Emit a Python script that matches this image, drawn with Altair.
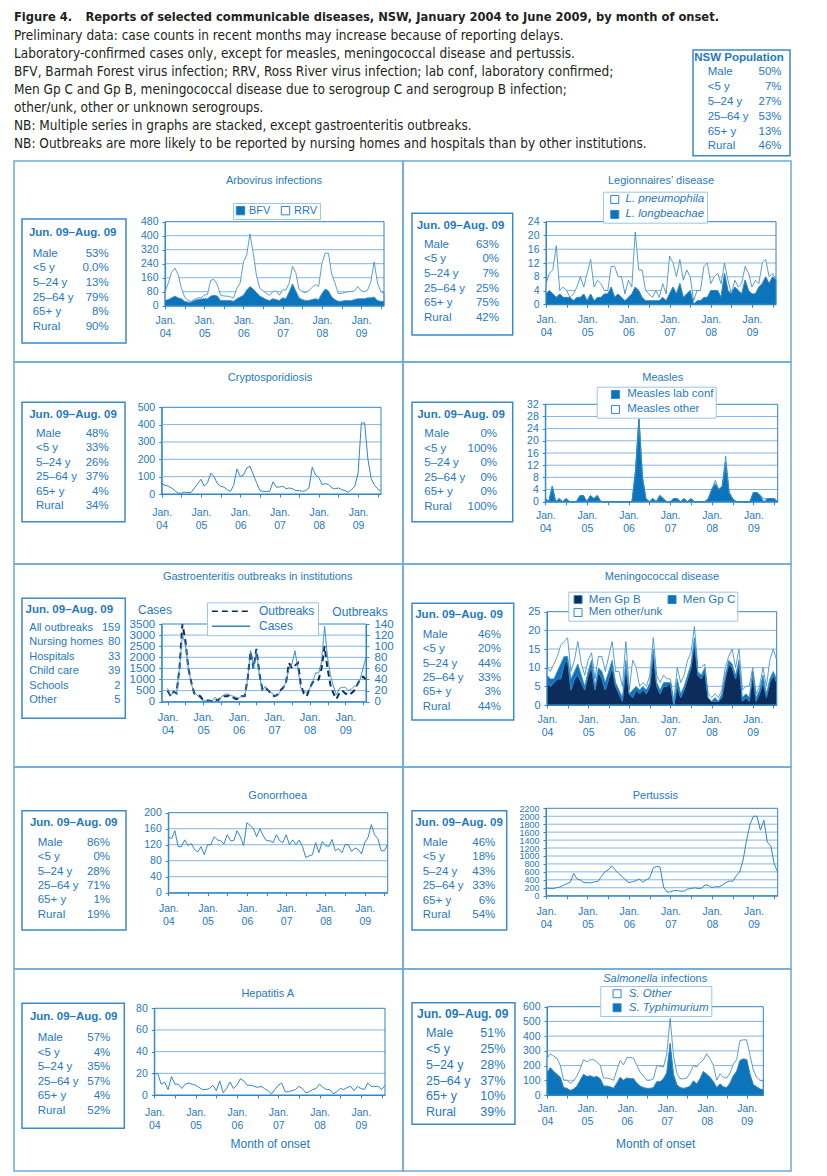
import altair as alt
import pandas as pd

# ---------------- colours / fonts ----------------
TXT = "#1f79be"
FRAME = "#2f86c6"
GRIDC = "#84b5df"
CELLB = "#6ea9da"
BOXB = "#3a8bcb"
LEGB = "#9cc6e6"
AREA = "#0b74ba"
NAVY = "#0c2c5c"
BLACK = "#231f20"
FONT = "Liberation Sans"
NARROW = "'Liberation Sans Narrow', 'Arial Narrow', 'DejaVu Sans Condensed', sans-serif"

# ---------------- text ----------------
FIG_LABEL = "Figure 4."
FIG_TITLE = "Reports of selected communicable diseases, NSW, January 2004 to June 2009, by month of onset."
NOTES = [
    "Preliminary data: case counts in recent months may increase because of reporting delays.",
    "Laboratory-confirmed cases only, except for measles, meningococcal disease and pertussis.",
    "BFV, Barmah Forest virus infection; RRV, Ross River virus infection; lab conf, laboratory confirmed;",
    "Men Gp C and Gp B, meningococcal disease due to serogroup C and serogroup B infection;",
    "other/unk, other or unknown serogroups.",
    "NB: Multiple series in graphs are stacked, except gastroenteritis outbreaks.",
    "NB: Outbreaks are more likely to be reported by nursing homes and hospitals than by other institutions.",
]
YEAR_LABELS = ["04", "05", "06", "07", "08", "09"]
STATS_TITLE = "Jun. 09\u2013Aug. 09"
AGE_LABELS = ["Male", "<5 y", "5\u201324 y", "25\u201364 y", "65+ y", "Rural"]
NSW_VALUES = ["50%", "7%", "27%", "53%", "13%", "46%"]
GASTRO_LABELS = ["All outbreaks", "Nursing homes", "Hospitals", "Child care", "Schools", "Other"]

ARBO_STATS = ["53%", "0.0%", "13%", "79%", "8%", "90%"]
LEGION_STATS = ["63%", "0%", "7%", "25%", "75%", "42%"]
CRYPTO_STATS = ["48%", "33%", "26%", "37%", "4%", "34%"]
MEASLES_STATS = ["0%", "100%", "0%", "0%", "0%", "100%"]
GASTRO_STATS = ["159", "80", "33", "39", "2", "5"]
MENINGO_STATS = ["46%", "20%", "44%", "33%", "3%", "44%"]
GONO_STATS = ["86%", "0%", "28%", "71%", "1%", "19%"]
PERT_STATS = ["46%", "18%", "43%", "33%", "6%", "54%"]
HEPA_STATS = ["57%", "4%", "35%", "57%", "4%", "52%"]
SALM_STATS = ["51%", "25%", "28%", "37%", "10%", "39%"]

# ---------------- monthly series (Jan 2004 onward) ----------------
ARBO_BFV = [30, 35, 45, 55, 45, 40, 25, 20, 20, 30, 35, 38, 40, 40, 55, 60, 55, 30, 30, 30,
            30, 25, 40, 50, 60, 90, 110, 95, 75, 55, 45, 35, 30, 40, 35, 30, 45, 40, 80, 125,
            85, 45, 35, 30, 30, 35, 40, 35, 70, 95, 85, 50, 35, 25, 25, 30, 30, 30, 35, 40,
            40, 40, 45, 45, 50, 30, 25, 25]
ARBO_RRV = [50, 95, 145, 160, 135, 60, 25, 10, 5, 5, 10, 7, 20, 25, 90, 90, 65, 30, 25, 25,
            20, 20, 60, 80, 190, 200, 300, 205, 95, 45, 40, 35, 30, 40, 50, 30, 45, 50, 50, 100,
            105, 50, 45, 45, 55, 70, 80, 75, 170, 205, 215, 130, 95, 45, 45, 45, 50, 50, 50, 70,
            45, 40, 45, 95, 200, 100, 55, 50]

LEG_LONGB = [3, 4, 3, 2, 3, 2, 2, 2, 1, 2, 2, 3, 1, 3, 1, 2, 2, 3, 3, 5,
             2, 3, 2, 1, 2, 3, 5, 4, 2, 1, 1, 1, 1, 1, 2, 1, 3, 5, 3, 6,
             2, 3, 4, 0, 1, 1, 2, 2, 4, 4, 4, 2, 9, 4, 3, 5, 4, 3, 7, 4,
             3, 3, 5, 6, 8, 6, 8, 7]
LEG_PNEUMO = [3, 5, 7, 15, 1, 3, 2, 0, 2, 3, 6, 2, 8, 10, 4, 5, 4, 1, 1, 6,
              9, 5, 6, 2, 5, 2, 16, 6, 8, 3, 2, 1, 3, 1, 4, 2, 11, 7, 5, 7,
              5, 7, 4, 1, 3, 3, 9, 10, 2, 4, 5, 4, 3, 3, 0, 2, 1, 3, 4, 5,
              2, 4, 1, 6, 5, 2, 1, 0]

CRYPTO = [60, 50, 45, 35, 20, 5, 5, 10, 8, 10, 35, 60, 85, 45, 65, 120, 100, 60, 45, 40,
          25, 15, 50, 145, 100, 110, 150, 160, 110, 65, 20, 15, 15, 15, 70, 40, 40, 45, 30, 35,
          30, 20, 20, 15, 20, 35, 155, 110, 95, 55, 60, 55, 35, 30, 35, 25, 20, 10, 25, 45,
          120, 410, 410, 200, 90, 50, 30, 15]

MEASLES_LAB = [1, 0, 5, 0, 1, 0, 1, 0, 0, 0, 2, 2, 0, 2, 1, 2, 0, 0, 0, 0,
               0, 0, 0, 0, 0, 0, 10, 27, 8, 1, 0, 1, 0, 2, 1, 0, 0, 1, 1, 0,
               1, 0, 1, 0, 0, 0, 0, 1, 4, 6, 4, 5, 13, 3, 1, 0, 0, 0, 0, 0,
               3, 3, 2, 0, 1, 1, 1, 0]
MEASLES_OTHER = [0, 0, 0, 0, 0, 0, 0, 0, 0, 0, 0, 0, 0, 0, 0, 0, 0, 0, 0, 0,
                 0, 0, 0, 0, 0, 0, 0, 1, 0, 0, 0, 0, 0, 0, 0, 0, 0, 0, 0, 0,
                 0, 0, 0, 0, 0, 0, 0, 0, 0, 1, 0, 0, 2, 0, 0, 0, 0, 0, 0, 0,
                 0, 0, 0, 1, 0, 0, 0, 0]

GASTRO_CASES = [600, 250, 450, 350, 1500, 3000, 2600, 1500, 800, 400, 300, 150, 50, 30, 50, 30, 200, 50, 200, 300,
                350, 300, 250, 200, 150, 250, 250, 1000, 2300, 1500, 2300, 1200, 500, 700, 500, 400, 300, 250, 450, 600,
                900, 1500, 1700, 2300, 1500, 600, 500, 400, 600, 900, 1300, 1300, 1800, 3400, 2000, 1200, 700, 300, 600, 650,
                650, 500, 550, 700, 700, 1000, 1500, 2000]
GASTRO_OUTBREAKS = [20, 10, 18, 15, 60, 140, 110, 60, 35, 15, 12, 10, 3, 2, 2, 1, 5, 2, 8, 10,
                    10, 12, 8, 5, 5, 10, 10, 40, 90, 60, 95, 50, 22, 25, 20, 15, 10, 12, 20, 25,
                    35, 70, 60, 65, 70, 30, 15, 10, 25, 35, 38, 40, 60, 100, 60, 30, 15, 5, 15, 20,
                    15, 12, 15, 20, 30, 40, 45, 40]

MEN_B = [6, 5, 6, 7, 7, 11, 12, 4, 7, 8, 6, 4, 8, 10, 4, 9, 7, 4, 7, 10,
         5, 3, 1, 10, 3, 2, 4, 3, 4, 3, 5, 14, 5, 3, 5, 5, 6, 0, 5, 2,
         4, 7, 10, 17, 8, 7, 9, 2, 1, 1, 1, 2, 7, 11, 10, 7, 11, 1, 2, 1,
         8, 1, 3, 6, 2, 6, 8, 6]
MEN_C = [2, 2, 1, 2, 4, 2, 1, 3, 2, 3, 2, 1, 1, 2, 1, 1, 2, 2, 2, 2,
         1, 1, 1, 2, 0, 2, 1, 1, 1, 1, 1, 1, 1, 1, 1, 1, 0, 0, 2, 1,
         1, 1, 1, 1, 1, 1, 1, 0, 0, 1, 0, 1, 1, 1, 1, 1, 1, 1, 1, 1,
         1, 1, 1, 2, 1, 1, 1, 1]
MEN_OTHER = [2, 2, 4, 4, 5, 4, 5, 2, 3, 6, 3, 3, 3, 2, 2, 3, 4, 3, 4, 5,
             3, 5, 3, 5, 1, 8, 5, 1, 1, 1, 2, 3, 2, 2, 2, 1, 1, 1, 3, 3,
             3, 4, 3, 3, 1, 2, 1, 1, 1, 1, 1, 1, 2, 1, 4, 2, 3, 2, 2, 3,
             1, 1, 1, 2, 2, 5, 6, 5]

GONO = [140, 135, 155, 115, 115, 132, 118, 123, 108, 102, 115, 95, 120, 120, 140, 132, 130, 122, 145, 130,
        130, 155, 140, 118, 175, 168, 160, 140, 160, 142, 130, 130, 125, 145, 130, 125, 145, 120, 132, 120,
        132, 115, 88, 92, 95, 125, 100, 128, 118, 115, 133, 105, 110, 100, 120, 120, 103, 112, 108, 97,
        125, 138, 170, 145, 135, 105, 105, 122]

PERTUSSIS = [200, 180, 175, 200, 220, 260, 300, 340, 560, 420, 390, 330, 330, 320, 350, 360, 480, 600, 650, 750,
             650, 560, 480, 400, 330, 350, 380, 420, 340, 400, 450, 700, 740, 720, 220, 90, 100, 130, 130, 110,
             120, 170, 180, 200, 180, 190, 270, 260, 200, 230, 220, 270, 330, 370, 360, 500, 600, 900, 1400, 1800,
             2000, 2000, 1650, 1900, 1350, 1250, 800, 600]

HEPA = [19, 20, 10, 12, 5, 17, 10, 10, 6, 10, 11, 10, 9, 7, 5, 5, 6, 9, 4, 13,
        2, 6, 12, 6, 9, 15, 13, 9, 9, 8, 7, 8, 6, 4, 1, 5, 9, 11, 3, 3,
        4, 5, 8, 6, 2, 3, 5, 6, 10, 7, 5, 5, 1, 3, 6, 5, 7, 8, 4, 8,
        6, 5, 11, 8, 8, 8, 5, 9]

SALM_TYPH = [150, 185, 160, 140, 120, 50, 45, 30, 40, 60, 100, 140, 125, 130, 120, 125, 110, 60, 60, 55,
             45, 80, 120, 100, 115, 110, 110, 80, 60, 50, 45, 45, 50, 90, 90, 110, 150, 350, 140, 70,
             50, 45, 50, 60, 95, 75, 110, 160, 140, 120, 90, 50, 75, 55, 50, 80, 130, 160, 235, 245,
             240, 140, 70, 55, 40, 35]
SALM_OTHER = [100, 95, 105, 110, 80, 50, 55, 50, 55, 70, 80, 100, 100, 110, 120, 100, 90, 55, 55, 55,
              55, 90, 115, 105, 140, 145, 140, 120, 95, 80, 55, 55, 60, 110, 105, 80, 130, 170, 130, 80,
              60, 65, 65, 90, 105, 115, 110, 80, 140, 125, 110, 50, 70, 65, 65, 70, 80, 80, 135, 130,
              135, 130, 100, 65, 60, 60]

# ---------------- helpers ----------------
ONE = alt.Data(values=[{"k": 0}])
LABEL_EXPR = ("datum.value % 12 == 0 ? ['Jan.', " + str(YEAR_LABELS) +
              "[datum.value / 12]] : ''")
INDEP = dict(x="independent", y="independent", fill="independent",
             stroke="independent", strokeDash="independent")


def txt(x, y, text, size=11.0, color=TXT, align="center", baseline="middle",
        weight="normal", style="normal", font=None, lh=None):
    kw = dict(fontSize=size, color=color, align=align, baseline=baseline,
              fontWeight=weight, fontStyle=style)
    if font:
        kw["font"] = font
    if lh:
        kw["lineHeight"] = lh
    return alt.Chart(ONE).mark_text(**kw).encode(
        x=alt.value(x), y=alt.value(y), text=alt.value(text))


def box(x0, y0, x1, y1, stroke=BOXB, sw=1.5):
    return alt.Chart(ONE).mark_rect(fill="white", stroke=stroke, strokeWidth=sw).encode(
        x=alt.value(x0), x2=alt.value(x1), y=alt.value(y0), y2=alt.value(y1))


def stats_layers(c):
    fs = c.get("sfs", 11.5)
    lfs = c.get("lfs", fs)
    bx = c["box"]
    base = c["r0"] + 0.33 * lfs
    return [
        box(*bx),
        txt(c["st"][0], c["st"][1], STATS_TITLE, size=fs, weight="bold"),
        txt(c["lx"], base, c["slabels"], size=lfs, align="left", baseline="alphabetic", lh=c["step"]),
        txt(c["vx"], base, c["svalues"], size=lfs, align="right", baseline="alphabetic", lh=c["step"]),
    ]


def scales(c, ymax):
    xs = alt.Scale(domain=c["xdom"], range=[c["px"][0], c["px"][1]], nice=False, zero=False)
    ys = alt.Scale(domain=[0, ymax], range=[c["py"][1], c["py"][0]], nice=False, zero=False)
    return xs, ys


def x_axis(c):
    ticks = [t for t in range(0, 68, 6) if t <= c["xdom"][1]]
    kw = dict(values=ticks, labelExpr=LABEL_EXPR, offset=c["py"][1] - c["h"], tickSize=3,
              tickColor=FRAME, domainColor=FRAME, labelColor=TXT, labelFontSize=c.get("xfs", 10.5),
              labelPadding=c["xlp"], labelLineHeight=13, labelFlush=False, labelOverlap=False,
              labelBound=False, grid=False, labelAlign="center", labelBaseline="top")
    if c.get("xtitle"):
        kw.update(title=c["xtitle"], titleY=c["xty"], titleBaseline="middle", titleFontSize=12,
                  titleFontWeight="normal", titleColor=TXT)
    else:
        kw.update(title=None)
    return alt.Axis(**kw)


def y_axis(c, ticks, orient="left", size=10.5, pad=4):
    off = -c["px"][0] if orient == "left" else c["px"][1] - c["w"]
    return alt.Axis(orient=orient, values=ticks, offset=off, format="d", tickSize=3,
                    tickColor=FRAME, domainColor=FRAME, labelColor=TXT, labelFontSize=size,
                    labelPadding=pad, labelOverlap=False, grid=False, title=None)


def grid_frame(c, xs, ys, ticks, ymax):
    g = alt.Chart(pd.DataFrame({"v": ticks[1:-1]})).mark_rule(color=GRIDC, strokeWidth=1).encode(
        y=alt.Y("v:Q", scale=ys, axis=None),
        x=alt.XDatum(c["xdom"][0], scale=xs, axis=None),
        x2=alt.X2Datum(c["xdom"][1]))
    f = alt.Chart(ONE).mark_rect(filled=False, stroke=FRAME, strokeWidth=1).encode(
        x=alt.XDatum(c["xdom"][0], scale=xs, axis=None), x2=alt.X2Datum(c["xdom"][1]),
        y=alt.YDatum(0, scale=ys, axis=None), y2=alt.Y2Datum(ymax))
    return g, f


def legend(x, y, **kw):
    base = dict(orient="none", legendX=x, legendY=y, title=None, symbolType="square",
                symbolSize=64, symbolStrokeColor=FRAME, symbolStrokeWidth=1, labelColor=TXT,
                labelFontSize=11, labelOffset=4, padding=2, rowPadding=2, strokeColor=LEGB,
                fillColor="white", direction="vertical")
    base.update(kw)
    return alt.Legend(**base)


def title_layers(c):
    if c.get("italic_title"):
        a, b = c["italic_title"]
        x, y = c["tpos"]
        return [txt(x, y, a, size=11, align="right", style="italic"),
                txt(x + 3, y, b, size=11, align="left")]
    return [txt(c["tpos"][0], c["tpos"][1], c["title"], size=11)]


def finish(c, layers):
    return alt.layer(*layers).resolve_scale(**INDEP).properties(
        width=c["w"], height=c["h"],
        view=alt.ViewBackground(stroke=CELLB, strokeWidth=1.5))


def stacked_cell(c):
    xs, ys = scales(c, c["ymax"])
    g, f = grid_frame(c, xs, ys, c["yticks"], c["ymax"])
    rows = []
    for name, vals, k in zip(c["names"], c["series"], c["ks"]):
        for i, v in enumerate(vals):
            rows.append({"m": i, "series": name, "value": v, "k": k})
    df = pd.DataFrame(rows)
    area = alt.Chart(df).mark_area(stroke=FRAME, strokeWidth=0.8, interpolate="linear").encode(
        x=alt.X("m:Q", scale=xs, axis=x_axis(c)),
        y=alt.Y("value:Q", scale=ys, axis=y_axis(c, c["yticks"], size=c.get("yfs", 10.5)), stack="zero"),
        fill=alt.Fill("series:N", scale=alt.Scale(domain=c["names"], range=c["fills"]),
                      legend=c["legend"]),
        order=alt.Order("k:Q"))
    return finish(c, [g, area, f] + title_layers(c) + stats_layers(c))


def line_cell(c):
    xs, ys = scales(c, c["ymax"])
    g, f = grid_frame(c, xs, ys, c["yticks"], c["ymax"])
    df = pd.DataFrame({"m": list(range(len(c["values"]))), "value": c["values"]})
    line = alt.Chart(df).mark_line(color=FRAME, strokeWidth=1).encode(
        x=alt.X("m:Q", scale=xs, axis=x_axis(c)),
        y=alt.Y("value:Q", scale=ys, axis=y_axis(c, c["yticks"], size=c.get("yfs", 10.5))))
    return finish(c, [g, line, f] + title_layers(c) + stats_layers(c))


def gastro_cell(c):
    xs, ys = scales(c, 3500)
    _, ys2 = scales(c, 140)
    cticks = list(range(0, 3501, 500))
    oticks = list(range(0, 141, 20))
    g, f = grid_frame(c, xs, ys, cticks, 3500)
    dom = ["Outbreaks", "Cases"]
    leg = legend(193, 38.3, symbolType="M-4,0L4,0", symbolSize=92, labelFontSize=12,
                 rowPadding=3, labelOffset=22, symbolStrokeWidth=1.5, symbolOffset=15, padding=3)
    sscale = alt.Scale(domain=dom, range=[NAVY, FRAME])
    dscale = alt.Scale(domain=dom, range=[[6, 4], [1, 0]])
    dc = pd.DataFrame({"m": list(range(len(GASTRO_CASES))), "value": GASTRO_CASES, "series": "Cases"})
    do = pd.DataFrame({"m": list(range(len(GASTRO_OUTBREAKS))), "value": GASTRO_OUTBREAKS,
                       "series": "Outbreaks"})
    cases = alt.Chart(dc).mark_line(strokeWidth=1).encode(
        x=alt.X("m:Q", scale=xs, axis=x_axis(c)),
        y=alt.Y("value:Q", scale=ys, axis=y_axis(c, cticks, size=11.5)),
        stroke=alt.Stroke("series:N", scale=sscale, legend=leg),
        strokeDash=alt.StrokeDash("series:N", scale=dscale, legend=leg))
    outb = alt.Chart(do).mark_line(strokeWidth=2).encode(
        x=alt.X("m:Q", scale=xs, axis=None),
        y=alt.Y("value:Q", scale=ys2, axis=y_axis(c, oticks, orient="right", size=11.5, pad=5)),
        stroke=alt.Stroke("series:N", scale=sscale, legend=None),
        strokeDash=alt.StrokeDash("series:N", scale=dscale, legend=None))
    extra = [txt(141, 46, "Cases", size=12), txt(346, 48.3, "Outbreaks", size=12)]
    return finish(c, [g, outb, cases, f] + title_layers(c) + extra + stats_layers(c))


LW, RW = 389, 388

arbo = stacked_cell(dict(
    w=LW, h=201, title="Arbovirus infections", tpos=(260, 19.7), px=(151, 370), py=(60.7, 144.7),
    xdom=[0, 67], ymax=480, yticks=list(range(0, 481, 80)), xlp=6.8,
    names=["BFV", "RRV"], series=[ARBO_BFV, ARBO_RRV], ks=[0, 1], fills=[AREA, "white"],
    legend=legend(219, 42, direction="horizontal", symbolSize=70, columnPadding=8, labelOffset=3),
    box=(8, 58, 112, 182), st=(58.7, 71.7), lx=18.7, vx=94.7, r0=92, step=14.6,
    slabels=AGE_LABELS, svalues=ARBO_STATS))

legion = stacked_cell(dict(
    w=RW, h=201, title="Legionnaires\u2019 disease", tpos=(258, 19.7), px=(143, 373), py=(60.7, 143.3),
    xdom=[0, 67], ymax=24, yticks=list(range(0, 25, 4)), xlp=7.5,
    names=["L. pneumophila", "L. longbeachae"], series=[LEG_PNEUMO, LEG_LONGB], ks=[1, 0],
    fills=["white", AREA],
    legend=legend(200, 30.7, labelFontStyle="italic", labelFontSize=11.5, symbolOffset=4, labelOffset=5),
    box=(9, 52.3, 109.7, 174), st=(57.5, 64.7), lx=21, vx=96, r0=83, step=14.6,
    slabels=AGE_LABELS, svalues=LEGION_STATS))

crypto = line_cell(dict(
    w=LW, h=202, title="Cryptosporidiosis", tpos=(256, 15.7), px=(147.7, 367), py=(45.3, 132),
    xdom=[0, 67], ymax=500, yticks=list(range(0, 501, 100)), xlp=10.2, values=CRYPTO,
    box=(8, 40.3, 111, 159.7), st=(59, 53), lx=22, vx=94.7, r0=71, step=14.5,
    slabels=AGE_LABELS, svalues=CRYPTO_STATS))

measles = stacked_cell(dict(
    w=RW, h=202, title="Measles", tpos=(259.7, 15.7), px=(142.3, 374.7), py=(42.3, 139.7),
    xdom=[0, 67], ymax=32, yticks=list(range(0, 33, 4)), xlp=5.8,
    names=["Measles lab conf", "Measles other"], series=[MEASLES_LAB, MEASLES_OTHER], ks=[0, 1],
    fills=[AREA, "white"],
    legend=legend(193.7, 24.7, labelFontSize=11.5, symbolOffset=11, labelOffset=6),
    box=(9, 40.3, 109.7, 159.7), st=(58, 53), lx=21.3, vx=94, r0=71.3, step=14.5,
    slabels=AGE_LABELS, svalues=MEASLES_STATS))

gastro = gastro_cell(dict(
    w=LW, h=203, title="Gastroenteritis outbreaks in institutions", tpos=(243.7, 13.3),
    px=(147.7, 352), py=(60, 137.7), xdom=[-2, 67], xlp=6.5, xfs=11,
    box=(8, 34.3, 111.3, 154.3), st=(55.3, 46), lx=15.3, vx=106.3, r0=63.3, step=14.5, lfs=11,
    slabels=GASTRO_LABELS, svalues=GASTRO_STATS))

meningo = stacked_cell(dict(
    w=RW, h=203, title="Meningococcal disease", tpos=(259, 13.3), px=(144, 373.7), py=(47.7, 141),
    xdom=[0, 67], ymax=25, yticks=list(range(0, 26, 5)), xlp=6.5, yfs=11,
    names=["Men Gp B", "Men Gp C", "Men other/unk"], series=[MEN_B, MEN_C, MEN_OTHER], ks=[0, 1, 2],
    fills=[NAVY, AREA, "white"],
    legend=legend(165.3, 27.7, columns=2, direction="horizontal", labelFontSize=11.5, rowPadding=0,
                  columnPadding=1, symbolOffset=2, labelOffset=5),
    box=(9, 39.3, 110.7, 156), st=(56, 51), lx=19.7, vx=98, r0=70, step=14.4,
    slabels=AGE_LABELS, svalues=MENINGO_STATS))

gono = line_cell(dict(
    w=LW, h=202, title="Gonorrhoea", tpos=(263.7, 28.7), px=(154.3, 373.7), py=(45.7, 125.7),
    xdom=[0, 67], ymax=200, yticks=list(range(0, 201, 40)), xlp=8.1, values=GONO,
    box=(8, 43.7, 112, 163), st=(59.7, 55.7), lx=23.7, vx=96, r0=75, step=14.4,
    slabels=AGE_LABELS, svalues=GONO_STATS))

pert = line_cell(dict(
    w=RW, h=202, title="Pertussis", tpos=(252.3, 28.7), px=(143, 374.7), py=(41.3, 128.7),
    xdom=[0, 67], ymax=2200, yticks=list(range(0, 2201, 200)), xlp=7.5, yfs=9, values=PERTUSSIS,
    box=(9, 43.7, 103.7, 163), st=(56, 55.7), lx=19.7, vx=92.3, r0=75.3, step=14.4,
    slabels=AGE_LABELS, svalues=PERT_STATS))

hepa = line_cell(dict(
    w=LW, h=202, title="Hepatitis A", tpos=(253.7, 25.3), px=(140.3, 371), py=(39.3, 126),
    xdom=[0, 67], ymax=80, yticks=list(range(0, 81, 20)), xlp=9.8, values=HEPA,
    xtitle="Month of onset", xty=48.3,
    box=(8, 34.3, 110.3, 159.3), st=(59.7, 48.3), lx=23.7, vx=96.3, r0=68.7, step=14.5,
    slabels=AGE_LABELS, svalues=HEPA_STATS))

salm = stacked_cell(dict(
    w=RW, h=202, italic_title=("Salmonella", "infections"), tpos=(254.7, 10),
    px=(144, 360.3), py=(37.7, 126), xdom=[0, 65], ymax=600, yticks=list(range(0, 601, 100)), xlp=5.8,
    xtitle="Month of onset", xty=48.3,
    names=["S. Other", "S. Typhimurium"], series=[SALM_OTHER, SALM_TYPH], ks=[1, 0],
    fills=["white", AREA],
    legend=legend(197.3, 17, labelFontStyle="italic", labelFontSize=11.5, rowPadding=1,
                  symbolOffset=9, labelOffset=6),
    box=(9, 33.7, 112, 155.3), st=(59.7, 45.3), lx=23, vx=102.3, r0=63.7, step=15.9, sfs=12,
    lfs=12.5, slabels=AGE_LABELS, svalues=SALM_STATS))

# ---------------- header ----------------
header_l = alt.layer(
    txt(0, 9.3, FIG_LABEL, size=12.8, weight="bold", color=BLACK, align="left", font=NARROW),
    txt(71.4, 9.3, FIG_TITLE, size=12.8, weight="bold", color=BLACK, align="left", font=NARROW),
    txt(0, 28 + 0.33 * 13.5, NOTES, size=13.5, color=BLACK, align="left", baseline="alphabetic",
        lh=17.9, font=NARROW),
).properties(width=LW, height=153)

header_r = alt.layer(
    box(290, 42, 387, 147.7),
    txt(336, 49.5, "NSW Population", size=11.5, weight="bold"),
    txt(304.7, 63.7 + 0.33 * 11.5, AGE_LABELS, size=11.5, align="left", baseline="alphabetic", lh=14.8),
    txt(378.6, 63.7 + 0.33 * 11.5, NSW_VALUES, size=11.5, align="right", baseline="alphabetic", lh=14.8),
).properties(width=RW, height=153)

chart = alt.concat(
    header_l, header_r, arbo, legion, crypto, measles, gastro, meningo, gono, pert, hepa, salm,
    columns=2, spacing=0, bounds="flush", align="each",
).resolve_scale(
    fill="independent", stroke="independent", strokeDash="independent",
).properties(
    padding={"left": 5, "top": 0, "right": 0, "bottom": 0}, background="white",
).configure(font=FONT).configure_view(strokeWidth=0)

chart.save("out.html", embed_options={"renderer": "svg", "actions": False})
